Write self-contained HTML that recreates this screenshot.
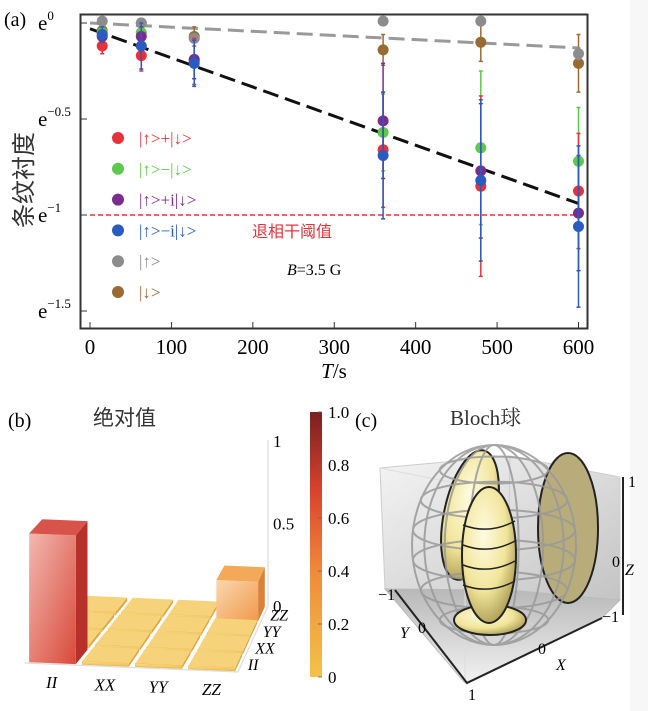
<!DOCTYPE html>
<html><head><meta charset="utf-8">
<style>
html,body{margin:0;padding:0;background:#fff;}
svg{display:block;}
text{font-family:"Liberation Serif","Noto Serif CJK SC",serif;}
text.cjk{font-family:"Liberation Sans","Noto Sans CJK SC",sans-serif;}
</style></head>
<body>
<svg id="fig" width="648" height="711" viewBox="0 0 648 711" xmlns="http://www.w3.org/2000/svg">
<defs>
<linearGradient id="cbar" x1="0" y1="1" x2="0" y2="0">
<stop offset="0" stop-color="#f3c24a"/><stop offset="0.4" stop-color="#f08a3a"/><stop offset="0.7" stop-color="#d9432e"/><stop offset="1" stop-color="#7a2020"/></linearGradient>
<linearGradient id="iifront" x1="0" y1="0" x2="1" y2="1"><stop offset="0" stop-color="#f2b8b0"/><stop offset="1" stop-color="#d94a3a"/></linearGradient>
<linearGradient id="zzfront" x1="0" y1="0" x2="1" y2="1"><stop offset="0" stop-color="#fbd7b0"/><stop offset="1" stop-color="#f09a4a"/></linearGradient>
<linearGradient id="tile" x1="0" y1="0" x2="0" y2="1"><stop offset="0" stop-color="#f9dc8a"/><stop offset="1" stop-color="#eebb50"/></linearGradient>
<linearGradient id="cubeback" x1="0" y1="0" x2="1" y2="1"><stop offset="0" stop-color="#f4f4f4"/><stop offset="1" stop-color="#c4c4c4"/></linearGradient>
<linearGradient id="cubefloor" x1="0" y1="0" x2="0" y2="1"><stop offset="0" stop-color="#b8b8b8"/><stop offset="1" stop-color="#f2f2f2"/></linearGradient>
<radialGradient id="ell" cx="0.4" cy="0.35" r="0.7"><stop offset="0" stop-color="#fffbe0"/><stop offset="0.6" stop-color="#f1e59a"/><stop offset="1" stop-color="#a89a50"/></radialGradient>
</defs>
<rect x="630" y="0" width="18" height="711" fill="#f7f7f7"/>
<g id="panelA"></g>
<g id="panelB"></g>
<g id="panelC"></g>
</svg>
<script>
// ---------- Panel (a) data ----------
const times = [15, 63, 128, 360, 480, 600];
const seriesNames = ["up+down", "up-down", "up+idown", "up-idown", "up", "down"];
const seriesColors = ["#e8323a", "#5cc94a", "#7b2d8e", "#2a5bbf", "#8c8c8c", "#9a6a35"];
const redVals    = [-0.12, -0.17, -0.20, -0.66, -0.85, -0.875];
const greenVals  = [-0.05, -0.05, -0.19, -0.57, -0.65, -0.72];
const purpleVals = [-0.07, -0.07, -0.19, -0.51, -0.77, -0.99];
const blueVals   = [-0.06, -0.12, -0.21, -0.69, -0.82, -1.06];
const grayVals   = [0.01, 0.00, -0.08, 0.01, 0.01, -0.16];
const brownVals  = [-0.04, 0.00, -0.07, -0.14, -0.10, -0.21];
const redErr     = [0.04, 0.08, 0.12, 0.30, 0.47, 0.30];
const greenErr   = [0.03, 0.05, 0.10, 0.20, 0.40, 0.28];
const purpleErr  = [0.03, 0.05, 0.10, 0.30, 0.35, 0.30];
const blueErr    = [0.04, 0.12, 0.12, 0.33, 0.42, 0.42];
const grayErr    = [0.01, 0.01, 0.02, 0.01, 0.01, 0.03];
const brownErr   = [0.02, 0.02, 0.05, 0.08, 0.10, 0.15];
const xTicks = [0, 100, 200, 300, 400, 500, 600];
const yTicks = [0, -0.5, -1, -1.5];
const yTickLabels = ["0", "\u22120.5", "\u22121", "\u22121.5"];
const fastFit = [-0.03, -0.94];
const slowFit = [0.0, -0.13];
const threshold = -1;
const legendLabels = ["|\u2191>+|\u2193>", "|\u2191>\u2212|\u2193>", "|\u2191>+i|\u2193>", "|\u2191>\u2212i|\u2193>", "|\u2191>", "|\u2193>"];

// ---------- Panel (b) data ----------
const pauliCats = ["II", "XX", "YY", "ZZ"];
const pauliVals = [
  [0.78, 0.02, 0.02, 0.02],
  [0.02, 0.02, 0.02, 0.02],
  [0.02, 0.02, 0.02, 0.02],
  [0.02, 0.02, 0.02, 0.24]
];
const zTicks = [0, 0.5, 1];
const cbarTicks = [0, 0.2, 0.4, 0.6, 0.8, 1.0];
const cbarTickLabels = ["0", "0.2", "0.4", "0.6", "0.8", "1.0"];

const NS = "http://www.w3.org/2000/svg";
function mk(parent, tag, attrs, txt) {
  const e = document.createElementNS(NS, tag);
  for (const k in attrs) e.setAttribute(k, attrs[k]);
  if (txt !== undefined) e.textContent = txt;
  parent.appendChild(e);
  return e;
}

// ---------- Panel A ----------
const A = document.getElementById("panelA");
const xS = t => 90 + t * (578.5 - 90) / 600;
const yS = v => 23 - v * 192;

let t;
t = mk(A, "text", {x: 4, y: 26, "font-size": 20}, "(a)");



const frame = mk(A, "rect", {x: 80.5, y: 14.5, width: 507, height: 314, fill: "none", stroke: "#333", "stroke-width": 2});



xTicks.forEach(v => {
  const tk = mk(A, "line", {x1: xS(v), x2: xS(v), y1: 328, y2: 322, stroke: "#333", "stroke-width": 1});
  
  
  const lb = mk(A, "text", {x: xS(v), y: 354, "font-size": 21, "text-anchor": "middle"}, String(v));
  
  
});
yTicks.forEach((v, k) => {
  const tk = mk(A, "line", {x1: 81, x2: 87, y1: yS(v), y2: yS(v), stroke: "#333", "stroke-width": 1});
  
  
  const lb = mk(A, "text", {x: 38, y: yS(v) + 7, "font-size": 21});
  
  
  lb.appendChild(document.createTextNode("e"));
  mk(lb, "tspan", {dy: -10, "font-size": 13}, yTickLabels[k]);
});
t = mk(A, "text", {x: 334, y: 378, "font-size": 21, "text-anchor": "middle"});


mk(t, "tspan", {"font-style": "italic"}, "T");
mk(t, "tspan", {}, "/s");
t = mk(A, "text", {x: 0, y: 0, "font-size": 24, "text-anchor": "middle", transform: "translate(32,180) rotate(-90)", fill: "#333", class: "cjk"}, "条纹衬度");



t = mk(A, "line", {x1: xS(0), y1: yS(slowFit[0]), x2: xS(600), y2: yS(slowFit[1]), stroke: "#999", "stroke-width": 3, "stroke-dasharray": "16 7"});


t = mk(A, "line", {x1: xS(0), y1: yS(fastFit[0]), x2: xS(600), y2: yS(fastFit[1]), stroke: "#111", "stroke-width": 3, "stroke-dasharray": "16 7"});


t = mk(A, "line", {x1: xS(0), y1: yS(threshold), x2: xS(600), y2: yS(threshold), stroke: "#e8323a", "stroke-width": 1.6, "stroke-dasharray": "5 3"});


t = mk(A, "text", {x: 252, y: 237, "font-size": 16, fill: "#e8323a", class: "cjk"}, "退相干阈值");


t = mk(A, "text", {x: 287, y: 275, "font-size": 16});


mk(t, "tspan", {"font-style": "italic"}, "B");
mk(t, "tspan", {}, "=3.5 G");

const allVals = [redVals, greenVals, purpleVals, blueVals, grayVals, brownVals];
const allErr = [redErr, greenErr, purpleErr, blueErr, grayErr, brownErr];
[5, 4, 1, 0, 2, 3].forEach(s => {
  const g = mk(A, "g", {});
  
  
  times.forEach((tt, i) => {
    const x = xS(tt), v = allVals[s][i], e = allErr[s][i];
    const eb = mk(g, "line", {x1: x, x2: x, y1: yS(v + e), y2: yS(v - e), stroke: seriesColors[s], "stroke-width": 1.5});
    
    
    mk(g, "line", {x1: x - 2, x2: x + 2, y1: yS(v + e), y2: yS(v + e), stroke: seriesColors[s], "stroke-width": 1.5});
    mk(g, "line", {x1: x - 2, x2: x + 2, y1: yS(v - e), y2: yS(v - e), stroke: seriesColors[s], "stroke-width": 1.5});
    const p = mk(g, "circle", {cx: x, cy: yS(v), r: 5.5, fill: seriesColors[s]});
    
    
  });
});

legendLabels.forEach((lab, k) => {
  const y = 138 + k * 30.8;
  const d = mk(A, "circle", {cx: 118, cy: y, r: 6, fill: seriesColors[k]});
  
  
  const tx = mk(A, "text", {x: 139, y: y + 6, "font-size": 17, fill: seriesColors[k]}, lab);
  
  
});

// ---------- Panel B ----------
const B = document.getElementById("panelB");
t = mk(B, "text", {x: 8, y: 427, "font-size": 20}, "(b)");


t = mk(B, "text", {x: 93, y: 425, "font-size": 21, fill: "#333", class: "cjk"}, "绝对值");



const FL = [25, 663], FR = [238, 672], BL = [85, 598], BR = [268, 606];
function base(i, j) {
  const u = i / 4, w = j / 4;
  const fx = FL[0] + (FR[0] - FL[0]) * u, fy = FL[1] + (FR[1] - FL[1]) * u;
  const bx = BL[0] + (BR[0] - BL[0]) * u, by = BL[1] + (BR[1] - BL[1]) * u;
  return [fx + (bx - fx) * w, fy + (by - fy) * w];
}
const zPx = 165;
function P(i, j, z) { const b = base(i, j); return [b[0], b[1] - z * zPx]; }
const pts = a => a.map(p => p[0].toFixed(1) + "," + p[1].toFixed(1)).join(" ");

t = mk(B, "polyline", {points: pts([[25, 663], [238, 672], [268, 606]]), fill: "none", stroke: "#ddd", "stroke-width": 1.2});


t = mk(B, "line", {x1: 268, y1: 606, x2: 268, y2: 440, stroke: "#ddd", "stroke-width": 1.2});


zTicks.forEach(v => {
  const lb = mk(B, "text", {x: 273, y: 606 - v * zPx + 6, "font-size": 17}, String(v));
  
  
});

const order = [];
for (let j = 3; j >= 0; j--) for (let i = 0; i < 4; i++) order.push([i, j]);
order.forEach(([i, j]) => {
  const v = pauliVals[j][i];
  const g = 0.06;
  const i0 = i + g, i1 = i + 1 - g, j0 = j + g, j1 = j + 1 - g;
  const big = v > 0.1;
  const frontFill = v > 0.5 ? "url(#iifront)" : (big ? "url(#zzfront)" : "url(#tile)");
  const sideFill = v > 0.5 ? "#b8302a" : (big ? "#d9823a" : "#e0a640");
  const topFill = v > 0.5 ? "#d8544a" : (big ? "#f3a85a" : "#f6d27a");
  const grp = mk(B, "g", {});
  
  
  mk(grp, "polygon", {points: pts([P(i1, j0, 0), P(i1, j1, 0), P(i1, j1, v), P(i1, j0, v)]), fill: sideFill});
  mk(grp, "polygon", {points: pts([P(i0, j0, 0), P(i1, j0, 0), P(i1, j0, v), P(i0, j0, v)]), fill: frontFill, stroke: big ? "none" : "#e6b24a", "stroke-width": 0.5});
  mk(grp, "polygon", {points: pts([P(i0, j0, v), P(i1, j0, v), P(i1, j1, v), P(i0, j1, v)]), fill: topFill});
});
pauliCats.forEach((c, i) => {
  const b = base(i + 0.5, 0);
  const lb = mk(B, "text", {x: b[0], y: b[1] + 24, "font-size": 17, "font-style": "italic", "text-anchor": "middle"}, c);
  
  
  const b2 = base(4, i + 0.5);
  const lb2 = mk(B, "text", {x: b2[0] + 6, y: b2[1] + 6, "font-size": 16, "font-style": "italic"}, c);
  
  
});

t = mk(B, "rect", {x: 310, y: 412, width: 12, height: 265, fill: "url(#cbar)"});


cbarTicks.forEach((v, k) => {
  const y = 677 - v * 265;
  mk(B, "line", {x1: 318, x2: 322, y1: y, y2: y, stroke: "#666", "stroke-width": 0.8});
  const lb = mk(B, "text", {x: 328, y: y + 6, "font-size": 17}, cbarTickLabels[k]);
  
  
});

// ---------- Panel C ----------
const C = document.getElementById("panelC");
t = mk(C, "text", {x: 355, y: 427, "font-size": 20}, "(c)");


t = mk(C, "text", {x: 450, y: 425, "font-size": 21, fill: "#333"});


mk(t, "tspan", {}, "Bloch");
mk(t, "tspan", {class: "cjk"}, "球");

t = mk(C, "polygon", {points: "380,468 510,456 620,477 620,600 508,590 385,589", fill: "url(#cubeback)", stroke: "#ccc", "stroke-width": 1});


mk(C, "line", {x1: 510, y1: 456, x2: 508, y2: 590, stroke: "#ccc", "stroke-width": 1});
t = mk(C, "polygon", {points: "385,589 508,590 620,600 602,618 465,683", fill: "url(#cubefloor)", stroke: "#bbb", "stroke-width": 1});


mk(C, "polyline", {points: "380,468 465,485 620,477", fill: "none", stroke: "#ddd", "stroke-width": 1});
mk(C, "line", {x1: 465, y1: 485, x2: 465, y2: 683, stroke: "#ddd", "stroke-width": 1});
t = mk(C, "polyline", {points: "395,590 467,683 602,618", fill: "none", stroke: "#222", "stroke-width": 2});


mk(C, "line", {x1: 623, y1: 477, x2: 623, y2: 615, stroke: "#222", "stroke-width": 2});

t = mk(C, "ellipse", {cx: 470, cy: 515, rx: 26, ry: 66, transform: "rotate(12 470 515)", fill: "url(#ell)", stroke: "#222", "stroke-width": 2});


t = mk(C, "ellipse", {cx: 568, cy: 528, rx: 30, ry: 75, fill: "#b8ad7a", stroke: "#222", "stroke-width": 2});


const wire = mk(C, "g", {fill: "none", stroke: "#999", "stroke-width": 2, opacity: 0.85});


mk(wire, "ellipse", {cx: 494, cy: 545, rx: 82, ry: 100});
[0.3, 0.6, 0.85].forEach(f => mk(wire, "ellipse", {cx: 494, cy: 545, rx: 82 * f, ry: 100}));
[-0.75, -0.45, -0.15, 0.15, 0.45, 0.75].forEach(f => {
  const y = 545 + f * 100, r = 82 * Math.sqrt(1 - f * f);
  mk(wire, "ellipse", {cx: 494, cy: y, rx: r, ry: r * 0.25});
});
t = mk(C, "ellipse", {cx: 490, cy: 620, rx: 36, ry: 15, fill: "url(#ell)", stroke: "#222", "stroke-width": 2});


t = mk(C, "ellipse", {cx: 489, cy: 555, rx: 27, ry: 68, fill: "url(#ell)", stroke: "#222", "stroke-width": 2});


[525, 545, 565, 585].forEach(y => mk(C, "path", {d: `M463,${y} Q489,${y + 10} 515,${y - 4}`, fill: "none", stroke: "#222", "stroke-width": 1.5}));

const axl = [["\u22121", 378, 600], ["0", 418, 633], ["1", 468, 700], ["Y", 400, 638, 1], ["0", 538, 654], ["\u22121", 602, 622], ["X", 556, 670, 1], ["1", 628, 487], ["0", 612, 567], ["Z", 625, 575, 1]];
axl.forEach(a => {
  const lb = mk(C, "text", {x: a[1], y: a[2], "font-size": 16, "font-style": a[3] ? "italic" : "normal"}, a[0]);
  
  
});
</script>
</body></html>
